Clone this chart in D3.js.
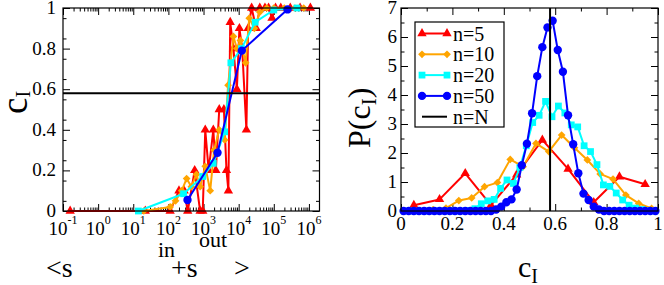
<!DOCTYPE html>
<html><head><meta charset="utf-8">
<script src="https://cdn.jsdelivr.net/npm/d3@7"></script>
<style>
body{margin:0;background:#fff;}
svg{display:block;font-family:"Liberation Serif","Times New Roman",serif;}
</style></head><body>
<svg id="c" width="664" height="285"></svg>
<script>
// ---------- DATA ----------
// Left panel: c_I vs <s_in + s_out>
const leftRedX = [0.16, 22, 112, 200, 280, 355, 560, 800, 950, 1120, 1400, 1900, 2240, 2800, 3800, 4500, 5100, 5750, 7100, 8900, 10500, 12600, 16600, 18600, 23400, 31600, 40000, 56000, 71000, 89000, 112000, 158000, 295000, 560000, 1100000];
const leftRedY = [0, 0, 0, 0.1, 0.1, 0, 0.2, 0, 0, 0.4, 0.2, 0.4, 0.2, 0.5, 0.5, 0.2, 0.1, 0.93, 0.8, 0.6, 0.9, 0.8, 0.4, 0.9, 1, 0.9, 1, 1, 1, 0.95, 1, 1, 1, 1, 1];
const leftOrangeX = [20, 112, 160, 240, 330, 450, 630, 800, 1120, 1550, 2000, 2800, 4000, 5000, 7100, 8900, 11200, 15800, 20000, 28000, 40000, 63000, 100000, 200000, 400000, 710000];
const leftOrangeY = [0, 0.02, 0.05, 0.1, 0.16, 0.12, 0.18, 0.12, 0.22, 0.1, 0.3, 0.4, 0.35, 0.62, 0.86, 0.8, 0.84, 0.73, 0.95, 0.9, 0.98, 1, 1, 1, 1, 1];
const leftCyanX = [14, 270, 950, 1900, 4000, 6000, 12000, 29500, 100000, 457000];
const leftCyanY = [0, 0.085, 0.17, 0.235, 0.39, 0.73, 0.8, 0.93, 0.99, 1.0];
const leftBlueX = [350, 2500, 12300, 245000];
const leftBlueY = [0.054, 0.287, 0.79, 0.993];
const cStar = 0.58;
const leftXTickExp = [-1, 0, 1, 2, 3, 4, 5, 6];
const leftYTicks = [0, 0.2, 0.4, 0.6, 0.8, 1];
const leftYTickLabels = ["0", "0.2", "0.4", "0.6", "0.8", "1"];

// Right panel: P(c_I)
const p5X = [0.05, 0.15, 0.25, 0.35, 0.45, 0.55, 0.65, 0.75, 0.85, 0.95];
const p5Y = [0.2, 0.4, 1.3, 0.2, 1.25, 2.45, 1.45, 0.3, 1.18, 0.92];
const p10X = [0.025, 0.075, 0.125, 0.175, 0.225, 0.275, 0.325, 0.375, 0.425, 0.475, 0.525, 0.575, 0.625, 0.675, 0.725, 0.775, 0.825, 0.875, 0.925, 0.975];
const p10Y = [0, 0.01, 0.05, 0.1, 0.36, 0.45, 0.84, 0.98, 1.78, 1.53, 2.33, 2.05, 2.62, 2.18, 1.76, 1.28, 1.1, 0.55, 0.26, 0.09];
const p20X = [0.0125, 0.0375, 0.0625, 0.0875, 0.1125, 0.1375, 0.1625, 0.1875, 0.2125, 0.2375, 0.2625, 0.2875, 0.3125, 0.3375, 0.3625, 0.3875, 0.4125, 0.4375, 0.4625, 0.4875, 0.5125, 0.5375, 0.5625, 0.5875, 0.6125, 0.6375, 0.6625, 0.6875, 0.7125, 0.7375, 0.7625, 0.7875, 0.8125, 0.8375, 0.8625, 0.8875, 0.9125, 0.9375, 0.9625, 0.9875];
const p20Y = [0, 0, 0, 0, 0, 0, 0, 0, 0, 0, 0.02, 0.08, 0.25, 0.35, 0.4, 0.78, 1.07, 0.95, 1.5, 2.25, 3.05, 3.3, 3.78, 3.25, 3.62, 3.38, 2.97, 2.9, 2.25, 2.05, 1.6, 0.9, 0.85, 0.62, 0.38, 0.2, 0.1, 0.05, 0.02, 0];
const p50X = [0.01, 0.03, 0.05, 0.07, 0.09, 0.11, 0.13, 0.15, 0.17, 0.19, 0.21, 0.23, 0.25, 0.27, 0.29, 0.31, 0.33, 0.35, 0.37, 0.39, 0.41, 0.43, 0.45, 0.47, 0.49, 0.51, 0.53, 0.55, 0.57, 0.59, 0.61, 0.63, 0.65, 0.67, 0.69, 0.71, 0.73, 0.75, 0.77, 0.79, 0.81, 0.83, 0.85, 0.87, 0.89, 0.91, 0.93, 0.95, 0.97, 0.99];
const p50Y = [0, 0, 0, 0, 0, 0, 0, 0, 0, 0, 0, 0, 0, 0, 0, 0, 0, 0, 0.05, 0.15, 0.3, 0.4, 0.74, 1.58, 2.32, 3.37, 4.65, 5.65, 6.33, 6.56, 5.55, 4.8, 3.3, 2.3, 1.3, 0.6, 0.38, 0.15, 0.05, 0, 0, 0, 0, 0, 0, 0, 0, 0, 0, 0];
const rightXTicks = [0, 0.2, 0.4, 0.6, 0.8, 1];
const rightXTickLabels = ["0", "0.2", "0.4", "0.6", "0.8", "1"];
const rightYTicks = [0, 1, 2, 3, 4, 5, 6, 7];
const legendLabels = ["n=5", "n=10", "n=20", "n=50", "n=N"];

// ---------- STYLE ----------
const RED = "#ff0000", ORANGE = "#ffa500", CYAN = "#00ffff", BLUE = "#0000ff";
const svg = d3.select("#c");
const TICKFS = 19;

function zip(xs, ys) { return xs.map((x, i) => [x, ys[i]]); }

function tickAxis(gen, scale, vals, size, tr) {
  const ax = gen(scale).tickValues(vals).tickSizeInner(-size).tickSizeOuter(0).tickFormat("");
  const g = svg.append("g").attr("transform", tr).call(ax);
  g.select(".domain").remove();
  g.selectAll("line").attr("stroke", "#000").attr("stroke-width", 1);
}

function series(x, y, data, color, type, size, rot) {
  const line = d3.line().x(d => x(d[0])).y(d => y(d[1]));
  svg.append("path").attr("d", line(data)).attr("fill", "none")
    .attr("stroke", color).attr("stroke-width", 2).attr("stroke-linejoin", "round");
  const sym = d3.symbol().type(type).size(size);
  svg.append("g").selectAll("path").data(data).join("path")
    .attr("d", sym)
    .attr("transform", d => `translate(${x(d[0])},${y(d[1])})` + (rot ? ` rotate(${rot})` : ""))
    .attr("fill", color);
}

// ---------- LEFT PANEL ----------
const L = { x0: 63, x1: 319.5, y0: 211, y1: 8 };
const xL = d3.scaleLog().domain([0.1, 2e6]).range([L.x0, L.x1]);
const yL = d3.scaleLinear().domain([0, 1]).range([L.y0, L.y1]);

const lMajor = leftXTickExp.map(e => Math.pow(10, e));
const lMinor = [];
leftXTickExp.forEach(e => { for (let m = 2; m <= 9; m++) { const v = m * Math.pow(10, e); if (v < 2e6) lMinor.push(v); } });
const lYMinor = d3.range(0.05, 1, 0.1);

tickAxis(d3.axisBottom, xL, lMajor, 7, `translate(0,${L.y0})`);
tickAxis(d3.axisBottom, xL, lMinor, 3.5, `translate(0,${L.y0})`);
tickAxis(d3.axisTop, xL, lMajor, 7, `translate(0,${L.y1})`);
tickAxis(d3.axisTop, xL, lMinor, 3.5, `translate(0,${L.y1})`);
tickAxis(d3.axisLeft, yL, leftYTicks, 7, `translate(${L.x0},0)`);
tickAxis(d3.axisLeft, yL, lYMinor, 3.5, `translate(${L.x0},0)`);
tickAxis(d3.axisRight, yL, leftYTicks, 7, `translate(${L.x1},0)`);
tickAxis(d3.axisRight, yL, lYMinor, 3.5, `translate(${L.x1},0)`);

series(xL, yL, zip(leftRedX, leftRedY), RED, d3.symbolTriangle, 38);
series(xL, yL, zip(leftOrangeX, leftOrangeY), ORANGE, d3.symbolSquare, 30, 45);
series(xL, yL, zip(leftCyanX, leftCyanY), CYAN, d3.symbolSquare, 46);
series(xL, yL, zip(leftBlueX, leftBlueY), BLUE, d3.symbolCircle, 55);
svg.append("line").attr("x1", L.x0).attr("x2", L.x1).attr("y1", yL(cStar)).attr("y2", yL(cStar))
  .attr("stroke", "#000").attr("stroke-width", 2);

svg.append("rect").attr("x", L.x0).attr("y", L.y1).attr("width", L.x1 - L.x0).attr("height", L.y0 - L.y1)
  .attr("fill", "none").attr("stroke", "#000").attr("stroke-width", 1.2);

svg.append("g").selectAll("text").data(leftYTicks).join("text")
  .attr("x", L.x0 - 7).attr("y", d => yL(d) + 6).attr("text-anchor", "end")
  .attr("font-size", TICKFS).text((d, i) => leftYTickLabels[i]);
const xl = svg.append("g").selectAll("text").data(leftXTickExp).join("text")
  .attr("x", d => xL(Math.pow(10, d))).attr("y", 235).attr("text-anchor", "middle")
  .attr("font-size", TICKFS);
xl.append("tspan").text("10");
xl.append("tspan").attr("dy", -11).attr("font-size", 12).text(d => d < 0 ? "-" + (-d) : String(d));

const lyl = svg.append("text").attr("transform", "translate(27,114) rotate(-90)").attr("font-size", 37);
lyl.append("tspan").text("c");
lyl.append("tspan").attr("dy", 3).attr("font-size", 20).text("I");

const xt = svg.append("g").attr("font-size", 28);
xt.append("text").attr("x", 46).attr("y", 277).text("<s");
xt.append("text").attr("x", 158).attr("y", 257).attr("font-size", 22).text("in");
xt.append("text").attr("x", 171).attr("y", 277).text("+s");
xt.append("text").attr("x", 199).attr("y", 247).attr("font-size", 22).text("out");
xt.append("text").attr("x", 234).attr("y", 277).text(">");

// ---------- RIGHT PANEL ----------
const R = { x0: 401, x1: 658, y0: 211, y1: 8 };
const xR = d3.scaleLinear().domain([0, 1]).range([R.x0, R.x1]);
const yR = d3.scaleLinear().domain([0, 7]).range([R.y0, R.y1]);
const rXMinor = [0.1, 0.3, 0.5, 0.7, 0.9];
const rYMinor = [0.5, 1.5, 2.5, 3.5, 4.5, 5.5, 6.5];

tickAxis(d3.axisBottom, xR, rightXTicks, 7, `translate(0,${R.y0})`);
tickAxis(d3.axisBottom, xR, rXMinor, 3.5, `translate(0,${R.y0})`);
tickAxis(d3.axisTop, xR, rightXTicks, 7, `translate(0,${R.y1})`);
tickAxis(d3.axisTop, xR, rXMinor, 3.5, `translate(0,${R.y1})`);
tickAxis(d3.axisLeft, yR, rightYTicks, 7, `translate(${R.x0},0)`);
tickAxis(d3.axisLeft, yR, rYMinor, 3.5, `translate(${R.x0},0)`);
tickAxis(d3.axisRight, yR, rightYTicks, 7, `translate(${R.x1},0)`);
tickAxis(d3.axisRight, yR, rYMinor, 3.5, `translate(${R.x1},0)`);

series(xR, yR, zip(p5X, p5Y), RED, d3.symbolTriangle, 38);
series(xR, yR, zip(p10X, p10Y), ORANGE, d3.symbolSquare, 30, 45);
series(xR, yR, zip(p20X, p20Y), CYAN, d3.symbolSquare, 46);
series(xR, yR, zip(p50X, p50Y), BLUE, d3.symbolCircle, 55);
svg.append("line").attr("x1", xR(cStar)).attr("x2", xR(cStar)).attr("y1", R.y0).attr("y2", R.y1)
  .attr("stroke", "#000").attr("stroke-width", 2);

svg.append("rect").attr("x", R.x0).attr("y", R.y1).attr("width", R.x1 - R.x0).attr("height", R.y0 - R.y1)
  .attr("fill", "none").attr("stroke", "#000").attr("stroke-width", 1.2);

svg.append("g").selectAll("text").data(rightXTicks).join("text")
  .attr("x", d => xR(d)).attr("y", 230).attr("text-anchor", "middle")
  .attr("font-size", TICKFS).text((d, i) => rightXTickLabels[i]);
svg.append("g").selectAll("text").data(rightYTicks).join("text")
  .attr("x", R.x0 - 4).attr("y", d => yR(d) + 6).attr("text-anchor", "end")
  .attr("font-size", TICKFS).text(d => String(d));

const ryl = svg.append("text").attr("transform", "translate(370,148) rotate(-90)").attr("font-size", 32);
ryl.append("tspan").text("P(c");
ryl.append("tspan").attr("dy", 6).attr("font-size", 21).text("I");
ryl.append("tspan").attr("dy", -6).text(")");

const rxl = svg.append("text").attr("x", 518).attr("y", 277).attr("font-size", 30);
rxl.append("tspan").text("c");
rxl.append("tspan").attr("dy", 6).attr("font-size", 20).text("I");

// legend
const LG = { x: 415, y: 22, w: 89, h: 105 };
svg.append("rect").attr("x", LG.x).attr("y", LG.y).attr("width", LG.w).attr("height", LG.h)
  .attr("fill", "#fff").attr("stroke", "#000").attr("stroke-width", 1.2);
const legSpec = [
  [RED, d3.symbolTriangle, 38, 0],
  [ORANGE, d3.symbolSquare, 30, 45],
  [CYAN, d3.symbolSquare, 46, 0],
  [BLUE, d3.symbolCircle, 55, 0],
  ["#000", null, 0, 0]
];
legSpec.forEach((s, i) => {
  const cy = 33.5 + i * 20.8;
  svg.append("line").attr("x1", 422).attr("x2", 447).attr("y1", cy).attr("y2", cy)
    .attr("stroke", s[0]).attr("stroke-width", 2);
  if (s[1]) {
    [422, 447].forEach(px => {
      svg.append("path").attr("d", d3.symbol().type(s[1]).size(s[2]))
        .attr("transform", `translate(${px},${cy})` + (s[3] ? ` rotate(${s[3]})` : ""))
        .attr("fill", s[0]);
    });
  }
  svg.append("text").attr("x", 453).attr("y", cy + 7).attr("font-size", 20).text(legendLabels[i]);
});
</script>
</body></html>
